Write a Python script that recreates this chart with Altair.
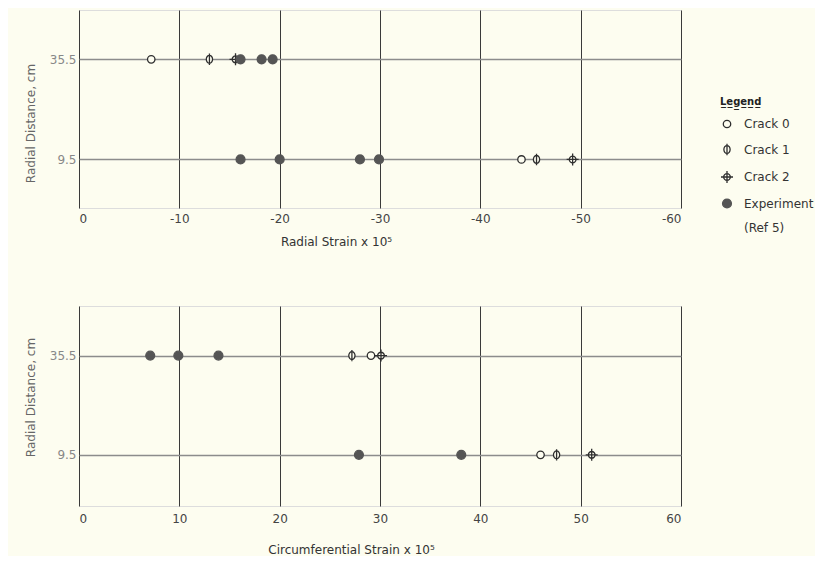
import altair as alt
import pandas as pd

BG = "#fdfdf0"
FONT = "DejaVu Sans"

# radial distances of the two gauge rows (cm)
distances = [35.5, 9.5]

# legend entries
series = ["Crack 0", "Crack 1", "Crack 2", "Experiment"]
legend_domain = ["Crack 0", "Crack 1", "Crack 2", "Experiment", "(Ref 5)"]

# ---- Radial strain x 10^5 (top panel) ----
radial_crack0 = [-7.2, -44.1]      # at 35.5, 9.5
radial_crack1 = [-13.0, -45.6]
radial_crack2 = [-15.6, -49.2]
radial_exp_35 = [-16.1, -18.2, -19.3]
radial_exp_9 = [-16.1, -20.0, -28.0, -29.9]

# ---- Circumferential strain x 10^5 (bottom panel) ----
circ_crack0 = [29.1, 46.0]
circ_crack1 = [27.2, 47.6]
circ_crack2 = [30.1, 51.1]
circ_exp_35 = [7.1, 9.9, 13.9]
circ_exp_9 = [27.9, 38.1]

radial_ticks = [0, -10, -20, -30, -40, -50, -60]
circ_ticks = [0, 10, 20, 30, 40, 50, 60]


def build(c0, c1, c2, e35, e9):
    rows = []
    for name, vals in (("Crack 0", c0), ("Crack 1", c1), ("Crack 2", c2)):
        for v, d in zip(vals, distances):
            rows.append({"strain": v, "dist": d, "series": name})
    for v in e35:
        rows.append({"strain": v, "dist": distances[0], "series": "Experiment"})
    for v in e9:
        rows.append({"strain": v, "dist": distances[1], "series": "Experiment"})
    return pd.DataFrame(rows)


top_df = build(radial_crack0, radial_crack1, radial_crack2, radial_exp_35, radial_exp_9)
bot_df = build(circ_crack0, circ_crack1, circ_crack2, circ_exp_35, circ_exp_9)

# custom symbol paths (unit box)
P0 = "M-0.62,0A0.62,0.62,0,1,0,0.62,0A0.62,0.62,0,1,0,-0.62,0Z"
P1 = "M0,-0.95L0,0.95M-0.52,0A0.52,0.66,0,1,0,0.52,0A0.52,0.66,0,1,0,-0.52,0Z"
P2 = "M0,-1L0,1M-1,0L1,0M-0.56,0A0.56,0.56,0,1,0,0.56,0A0.56,0.56,0,1,0,-0.56,0Z"
PE = "M-0.74,0A0.74,0.74,0,1,0,0.74,0A0.74,0.74,0,1,0,-0.74,0Z"
PN = "M0,0"

shape_scale = alt.Scale(domain=legend_domain, range=[P0, P1, P2, PE, PN])
fill_scale = alt.Scale(domain=legend_domain, range=[BG, BG, BG, "#555555", "transparent"])
stroke_scale = alt.Scale(domain=legend_domain, range=["#2e2e2e", "#2e2e2e", "#2e2e2e", "#555555", "transparent"])

leg = alt.Legend(
    title="L\u0332e\u0332g\u0332e\u0332n\u0332d\u0332",
    orient="none", legendX=641, legendY=87,
    titleFontSize=10, titleFontWeight="bold", titleColor="#222", titlePadding=10,
    labelFontSize=12, labelColor="#333", labelFont=FONT, titleFont=FONT,
    labelExpr="datum.label == '(Ref 5)' ? '\u00a0(Ref 5)' : datum.label",
    symbolSize=144, symbolStrokeWidth=1.3, symbolOpacity=1,
    labelOffset=10, rowPadding=9.5, padding=0,
)

NEG_LABEL = "datum.value == 0 ? '0' : (datum.value < 0 ? '-' + abs(datum.value) : '' + datum.value)"


def panel(df, ticks, domain, xtitle, title_x, ydomain, title_y, show_legend,
          lab_pad, tit_pad):
    lg = leg if show_legend else None
    return alt.Chart(df).mark_point(size=144, strokeWidth=1.3, opacity=1).encode(
        x=alt.X("strain:Q", scale=alt.Scale(domain=domain, nice=False),
                axis=alt.Axis(values=ticks, labelExpr=NEG_LABEL, title=xtitle, grid=True,
                              gridColor="#3a3a3a", gridWidth=1, ticks=False, domain=False,
                              labelPadding=lab_pad, labelFontSize=12, labelColor="#444",
                              titleFontSize=12, titleFontWeight="normal", titleColor="#333",
                              titlePadding=tit_pad, titleX=title_x)),
        y=alt.Y("dist:Q", scale=alt.Scale(domain=ydomain, nice=False, zero=False),
                axis=alt.Axis(values=distances, format=".1f", title="Radial Distance, cm",
                              grid=True, gridColor="#8c8c8c", gridWidth=1.3, ticks=False,
                              domain=False, labelPadding=3, labelFontSize=12,
                              labelColor="#888", titleFontSize=12, titleFontWeight="normal",
                              titleColor="#666", titlePadding=12, titleY=title_y)),
        shape=alt.Shape("series:N", scale=shape_scale, legend=lg),
        fill=alt.Fill("series:N", scale=fill_scale, legend=lg),
        stroke=alt.Stroke("series:N", scale=stroke_scale, legend=lg),
    ).properties(width=602, height=198 if show_legend else 200)


top = panel(top_df, radial_ticks, [0, -60], "Radial Strain  x  10\u2075", 257,
            [-3.1, 48.3], 113, True, 5, 12)
bottom = panel(bot_df, circ_ticks, [0, 60], "Circumferential Strain  x  10\u2075", 272,
               [-3.9, 48.5], 91, False, 7, 20)

chart = alt.vconcat(top, bottom, spacing=57).resolve_scale(
    shape="independent", fill="independent", stroke="independent"
).properties(
    padding={"left": 15, "top": 1, "right": 0, "bottom": 0},
    background=BG,
).configure_view(
    stroke="#444444", strokeWidth=1.2
).configure(font=FONT)

chart.save("out.html", embed_options={"renderer": "svg", "actions": False})
